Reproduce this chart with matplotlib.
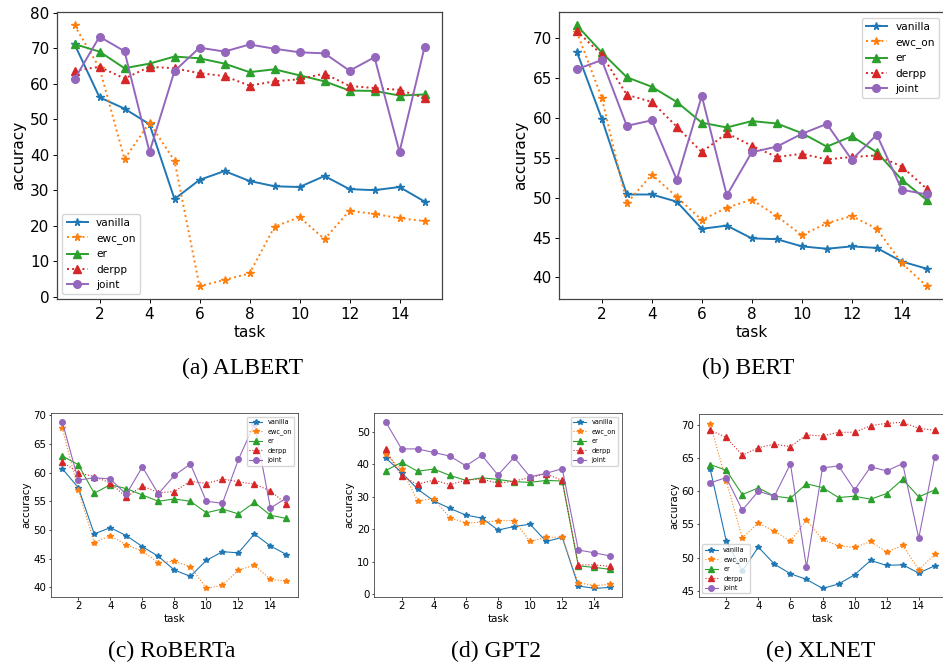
import matplotlib
matplotlib.use("Agg")
import matplotlib.pyplot as plt

tasks = list(range(1, 16))
series_names = ["vanilla", "ewc_on", "er", "derpp", "joint"]

# ALBERT
albert_vanilla = [71.2, 56.2, 53.0, 48.6, 27.5, 32.9, 35.4, 32.6, 31.1, 30.9, 34.0, 30.3, 30.0, 30.9, 26.8]
albert_ewc_on = [76.5, 64.5, 38.8, 49.0, 38.3, 2.9, 4.7, 6.5, 19.7, 22.4, 16.2, 24.2, 23.3, 22.1, 21.3]
albert_er = [71.2, 69.1, 64.4, 65.7, 67.7, 67.2, 65.7, 63.3, 64.1, 62.4, 60.7, 58.1, 58.0, 56.7, 57.0]
albert_derpp = [63.7, 64.8, 61.5, 64.8, 64.4, 63.0, 62.2, 59.5, 60.7, 61.3, 62.9, 59.4, 58.8, 58.3, 56.0]
albert_joint = [61.3, 73.3, 69.2, 40.8, 63.6, 70.2, 69.1, 71.1, 69.9, 68.9, 68.6, 63.7, 67.5, 40.8, 70.3]

# BERT
bert_vanilla = [68.3, 59.9, 50.4, 50.4, 49.5, 46.1, 46.5, 44.9, 44.8, 43.9, 43.6, 43.9, 43.7, 42.0, 41.1]
bert_ewc_on = [70.8, 62.5, 49.3, 52.9, 50.1, 47.2, 48.75, 49.75, 47.7, 45.3, 46.8, 47.7, 46.1, 41.8, 38.9]
bert_er = [71.6, 68.2, 65.1, 63.9, 62.0, 59.4, 58.8, 59.6, 59.3, 58.1, 56.4, 57.7, 55.7, 52.25, 49.7]
bert_derpp = [70.9, 67.9, 62.9, 62.0, 58.9, 55.7, 58.1, 56.5, 55.1, 55.5, 54.8, 55.1, 55.3, 53.9, 51.1]
bert_joint = [66.1, 67.25, 59.0, 59.7, 52.25, 62.75, 50.3, 55.7, 56.4, 58.0, 59.25, 54.75, 57.9, 51.0, 50.4]

# RoBERTa
roberta_vanilla = [60.7, 57.4, 49.3, 50.4, 49.0, 47.1, 45.4, 43.0, 41.9, 44.7, 46.2, 46.0, 49.3, 47.2, 45.7]
roberta_ewc_on = [67.8, 57.0, 47.8, 49.0, 47.4, 46.3, 44.3, 44.55, 43.6, 39.8, 40.35, 43.0, 43.85, 41.35, 41.1]
roberta_er = [62.9, 61.4, 56.4, 57.9, 57.2, 56.1, 55.0, 55.4, 55.0, 53.0, 53.65, 52.8, 54.8, 52.55, 52.0]
roberta_derpp = [61.9, 60.0, 59.3, 58.2, 55.7, 57.7, 56.5, 56.7, 58.5, 58.1, 58.9, 58.4, 58.0, 56.8, 54.5]
roberta_joint = [68.9, 58.7, 59.1, 58.9, 56.2, 61.0, 56.3, 59.5, 61.5, 55.0, 54.65, 62.3, 68.5, 53.8, 55.6]

# GPT2
gpt2_vanilla = [42.0, 37.4, 32.3, 28.7, 26.4, 24.3, 23.4, 19.7, 20.8, 21.5, 16.2, 17.45, 2.5, 1.75, 2.05]
gpt2_ewc_on = [43.0, 38.4, 28.7, 29.4, 23.5, 21.9, 22.1, 22.6, 22.6, 16.2, 17.45, 17.55, 3.5, 2.6, 3.0]
gpt2_er = [38.0, 40.55, 37.8, 38.5, 36.55, 35.0, 35.8, 35.3, 34.6, 34.4, 35.0, 34.8, 8.7, 8.2, 7.6]
gpt2_derpp = [44.6, 36.3, 33.8, 35.1, 33.7, 35.1, 35.4, 34.1, 34.8, 35.9, 37.0, 35.0, 9.0, 9.0, 8.5]
gpt2_joint = [53.1, 44.7, 44.7, 43.6, 42.5, 39.5, 42.7, 36.65, 42.1, 36.1, 37.2, 38.6, 13.55, 12.7, 11.7]

# XLNET
xlnet_vanilla = [63.3, 52.5, 48.0, 51.6, 49.05, 47.6, 46.75, 45.4, 46.05, 47.45, 49.6, 48.85, 48.95, 47.7, 48.8]
xlnet_ewc_on = [70.05, 61.5, 53.0, 55.2, 54.0, 52.5, 55.65, 52.75, 51.8, 51.55, 52.45, 50.85, 51.85, 48.2, 50.5]
xlnet_er = [64.0, 63.15, 59.5, 60.5, 59.25, 58.95, 61.1, 60.55, 59.05, 59.25, 58.8, 59.65, 61.8, 59.15, 60.2]
xlnet_derpp = [69.15, 68.1, 65.4, 66.55, 67.05, 66.7, 68.45, 68.3, 68.85, 68.85, 69.85, 70.2, 70.35, 69.45, 69.15]
xlnet_joint = [61.25, 62.05, 57.15, 60.0, 59.25, 64.1, 48.6, 63.5, 63.8, 60.2, 63.65, 63.05, 64.15, 52.95, 65.15]

captions = ["(a) ALBERT", "(b) BERT", "(c) RoBERTa", "(d) GPT2", "(e) XLNET"]

panels = [
    [albert_vanilla, albert_ewc_on, albert_er, albert_derpp, albert_joint],
    [bert_vanilla, bert_ewc_on, bert_er, bert_derpp, bert_joint],
    [roberta_vanilla, roberta_ewc_on, roberta_er, roberta_derpp, roberta_joint],
    [gpt2_vanilla, gpt2_ewc_on, gpt2_er, gpt2_derpp, gpt2_joint],
    [xlnet_vanilla, xlnet_ewc_on, xlnet_er, xlnet_derpp, xlnet_joint],
]

colors = ["#1f77b4", "#ff7f0e", "#2ca02c", "#d62728", "#9467bd"]
markers = ["*", "*", "^", "^", "o"]
styles = ["-", ":", "-", ":", "-"]

W, H = 943, 665
# axes boxes in pixels: left, top, right, bottom
boxes = [
    (57, 12.3, 442, 299.3),
    (559.3, 12.3, 944.3, 299.3),
    (51, 413.3, 297.7, 596.7),
    (374.3, 413.3, 621.7, 596.7),
    (699, 414, 946, 596.7),
]
legend_locs = ["lower left", "upper right", "upper right", "upper right", "lower left"]
caption_pos = [(243, 368), (748, 368), (172, 651), (496, 651), (821, 651)]

fig = plt.figure(figsize=(W / 100, H / 100), dpi=100)

for i, (box, data) in enumerate(zip(boxes, panels)):
    l, t, r, b = box
    ax = fig.add_axes([l / W, 1 - b / H, (r - l) / W, (b - t) / H])
    top = i < 2
    lw = 1.4 if top else 0.8
    ms = 5.5 if top else 4.0
    for name, vals, c, m, ls in zip(series_names, data, colors, markers, styles):
        ax.plot(tasks, vals, color=c, marker=m, linestyle=ls, linewidth=lw,
                markersize=ms, label=name)
    fs = 11 if top else 7.4
    ax.set_xlabel("task", fontsize=fs, labelpad=2.5 if top else 1.5)
    ax.set_ylabel("accuracy", fontsize=fs, labelpad=3 if top else 1.5)
    ax.set_xticks([2, 4, 6, 8, 10, 12, 14])
    ax.tick_params(labelsize=fs, length=2.8 if top else 1.8, pad=2.6 if top else 1.6,
                   width=0.7 if top else 0.5)
    for sp in ax.spines.values():
        sp.set_linewidth(0.9 if top else 0.6)
        sp.set_color("#444444")
    ax.legend(loc=legend_locs[i], fontsize=7.6 if top else 4.7)
    cx, cy = caption_pos[i]
    fig.text(cx / W, 1 - cy / H, captions[i], fontsize=17, family="Liberation Serif",
             ha="center", va="center")

fig.savefig("out.png", dpi=100)
